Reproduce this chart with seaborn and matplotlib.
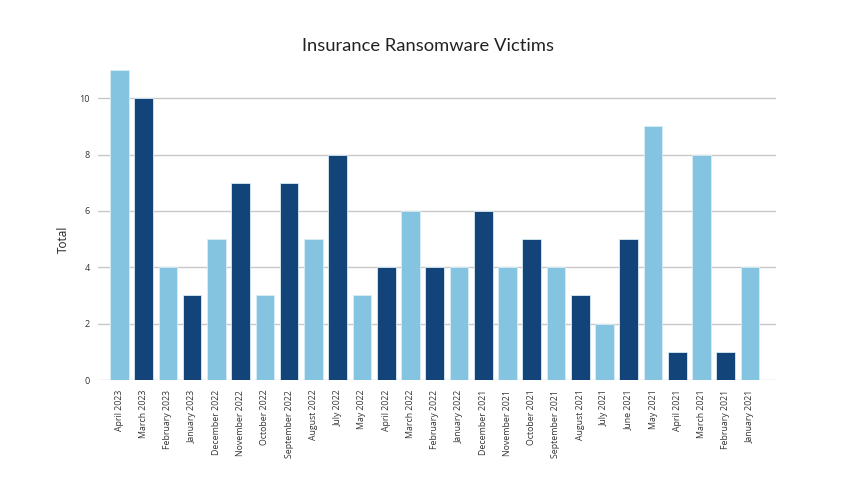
import matplotlib
matplotlib.use("Agg")
import matplotlib.pyplot as plt
import seaborn as sns
import pandas as pd

# data
months = ["April 2023", "March 2023", "February 2023", "January 2023",
          "December 2022", "November 2022", "October 2022", "September 2022",
          "August 2022", "July 2022", "May 2022", "April 2022", "March 2022",
          "February 2022", "January 2022", "December 2021", "November 2021",
          "October 2021", "September 2021", "August 2021", "July 2021",
          "June 2021", "May 2021", "April 2021", "March 2021",
          "February 2021", "January 2021"]
totals = [11, 10, 4, 3, 5, 7, 3, 7, 5, 8, 3, 4, 6, 4, 4, 6, 4, 5, 4, 3, 2,
          5, 9, 1, 8, 1, 4]
y_ticks = [0, 2, 4, 6, 8, 10]

light = "#85C4E1"
dark = "#12447A"

sns.set_style("white")
plt.rcParams['font.family'] = ['Open Sans', 'DejaVu Sans']

df = pd.DataFrame({"month": months, "total": totals})
palette = [light if i % 2 == 0 else dark for i in range(len(months))]

fig = plt.figure(figsize=(8.67, 4.92), dpi=100)
ax = fig.add_axes([98 / 867, 1 - 380 / 492, 678 / 867, 310 / 492])

sns.barplot(data=df, x="month", y="total", hue="month", palette=palette,
            legend=False, width=0.77, saturation=1, ax=ax,
            edgecolor="#d8ecf6", linewidth=0.6, zorder=3)

ax.set_xlim(-0.88, 27.07)
ax.set_ylim(0, 11)
ax.set_yticks(y_ticks)
ax.yaxis.grid(True, color="#c8c8c8", linewidth=1, zorder=0)
ax.set_axisbelow(True)
for s in ax.spines.values():
    s.set_visible(False)

ax.tick_params(axis="x", labelrotation=90, labelsize=6.3, labelcolor="#333333",
               length=0, pad=7)
ax.tick_params(axis="y", labelsize=6.5, labelcolor="#333333", length=0, pad=6)
ax.set_xlabel("")
ax.set_ylabel("Total", fontsize=8.5, color="#222222")
ax.yaxis.set_label_coords(-0.042, 5 / 11)

fig.text(0.4935, 1 - 46 / 492, "Insurance Ransomware Victims",
         family=["Lato", "DejaVu Sans"], fontsize=13.2, color="#222222",
         ha="center", va="center")

fig.savefig("out.png", dpi=100, facecolor="white")
